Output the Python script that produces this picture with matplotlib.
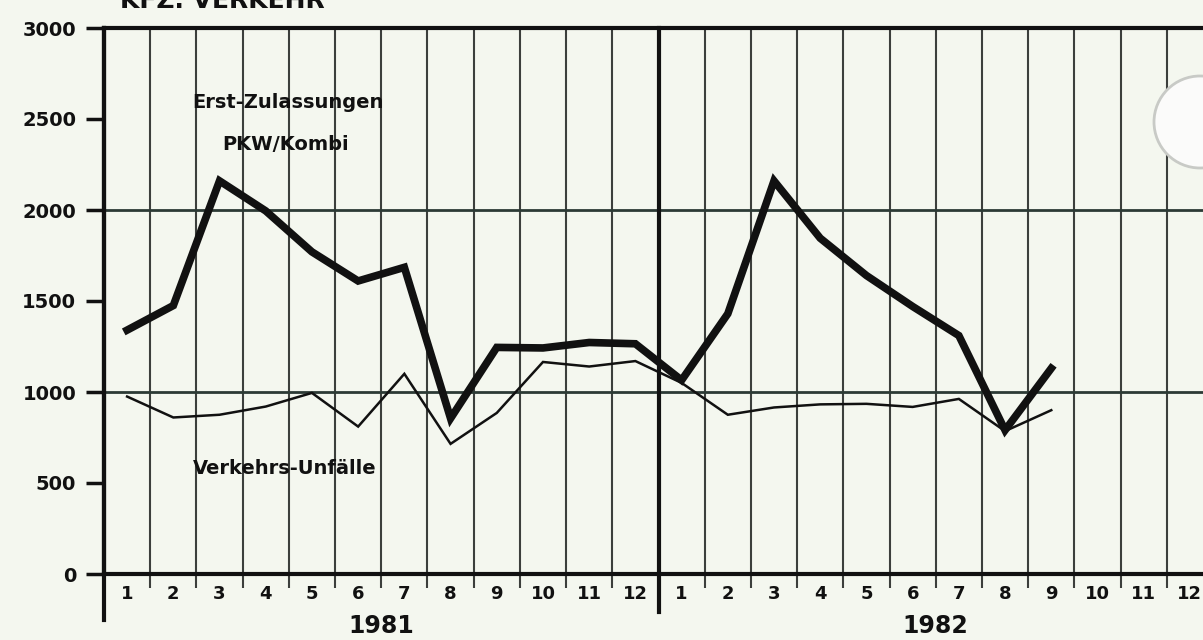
import matplotlib
matplotlib.use("Agg")
from matplotlib import pyplot as plt
from matplotlib.patches import Ellipse
import numpy as np

# data (monthly values, 1981 and 1982 Jan-Sep)
month_labels = [str(m) for m in range(1, 13)] * 2
years = ["1981", "1982"]
pkw_1981 = [1340, 1475, 2160, 1995, 1770, 1610, 1685, 855, 1245, 1242, 1272, 1265]
pkw_1982 = [1065, 1430, 2160, 1845, 1640, 1470, 1310, 790, 1130]
unf_1981 = [975, 860, 875, 920, 995, 810, 1100, 715, 885, 1165, 1140, 1170]
unf_1982 = [1050, 875, 915, 932, 935, 918, 962, 785, 900]
y_ticks = [0, 500, 1000, 1500, 2000, 2500, 3000]

pkw = pkw_1981 + pkw_1982
unf = unf_1981 + unf_1982
x_pkw = np.arange(len(pkw)) + 0.5
x_unf = np.arange(len(unf)) + 0.5

bg = "#f4f7ef"
ink = "#111111"
grid = "#3c3f3c"

fig = plt.figure(figsize=(12.03, 6.4), dpi=100, facecolor=bg)
ax = fig.add_axes([104 / 1203, 1 - 574 / 640, 1109 / 1203, 546 / 640])
ax.set_facecolor(bg)
ax.set_xlim(0, 24)
ax.set_ylim(0, 3000)

# month boundaries as vertical grid
ax.set_xticks(np.arange(0, 25))
ax.set_xticklabels([])
ax.set_xticks(np.arange(24) + 0.5, minor=True)
ax.set_xticklabels(month_labels, minor=True)
ax.tick_params(axis="x", which="major", direction="out", length=10, width=1.5, color=grid)
ax.tick_params(axis="x", which="minor", length=0, pad=8,
               labelsize=13, labelcolor=ink)
for lab in ax.get_xticklabels(minor=True):
    lab.set_fontweight("bold")
for xb in range(1, 24):
    ax.axvline(xb, color=grid, lw=1.5, zorder=1)

ax.set_yticks(y_ticks)
ax.set_yticklabels([str(v) for v in y_ticks], fontsize=14, fontweight="bold", color=ink)
ax.tick_params(axis="y", direction="out", length=13, width=2.5, color=ink, pad=7)

for yv in [1000, 2000]:
    ax.axhline(yv, color="#2c3a35", lw=2, zorder=1)

for side in ["left", "bottom", "top"]:
    ax.spines[side].set_color(ink)
    ax.spines[side].set_linewidth(3)
ax.spines["right"].set_visible(False)

# left axis and year separator run down below the baseline
ax.axvline(0, ymin=-0.085, ymax=1, color=ink, lw=3, clip_on=False, zorder=3)
ax.axvline(12, ymin=-0.07, ymax=1, color=ink, lw=3, clip_on=False, zorder=3)

ax.plot(x_unf, unf, color=ink, lw=1.8, zorder=4, solid_joinstyle="miter")
ax.plot(x_pkw, pkw, color=ink, lw=5.5, zorder=5, solid_joinstyle="miter")

ax.text(3.98, 2590, "Erst-Zulassungen", ha="center", va="center",
        fontsize=14, fontweight="bold", color=ink)
ax.text(3.92, 2360, "PKW/Kombi", ha="center", va="center",
        fontsize=14, fontweight="bold", color=ink)
ax.text(3.92, 580, "Verkehrs-Unfälle", ha="center", va="center",
        fontsize=14, fontweight="bold", color=ink)

for i, yr in enumerate(years):
    ax.text(6 + 12 * i, -0.095, yr, transform=ax.get_xaxis_transform(),
            ha="center", va="center", fontsize=17, fontweight="bold", color=ink)

fig.text(120 / 1203, 1 - 8 / 640, "KFZ. VERKEHR", ha="left", va="baseline",
         fontsize=18, fontweight="bold", color=ink)

# faint punched-hole mark on the right edge
fig.patches.append(Ellipse((1200 / 1203, 1 - 122 / 640), 92 / 1203, 92 / 640,
                           transform=fig.transFigure, facecolor="#fbfbfa",
                           edgecolor="#c8cac6", lw=2, zorder=10))

fig.savefig("out.png", dpi=100, facecolor=bg)
